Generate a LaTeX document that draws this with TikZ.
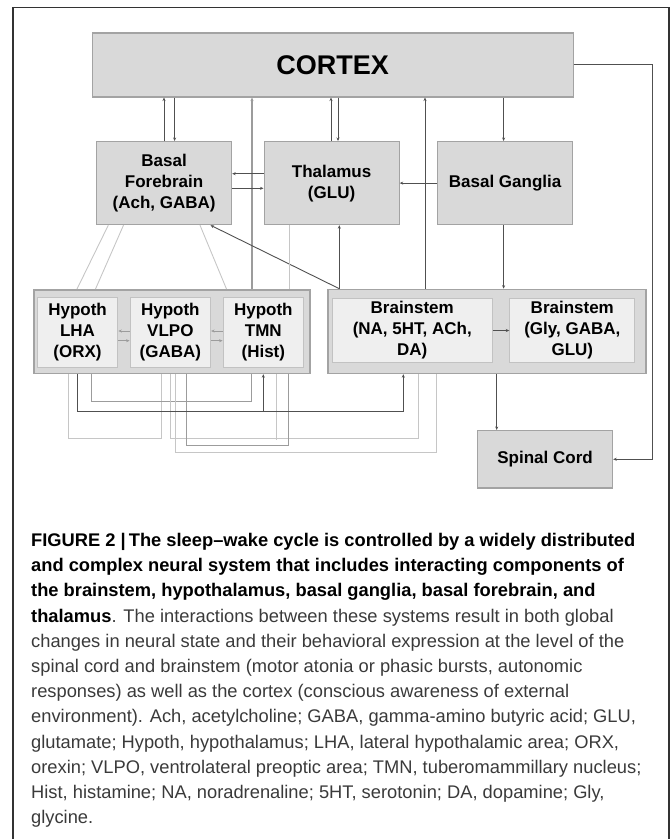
\documentclass[tikz,border=0pt]{standalone}
\usepackage{fontspec}
\setmainfont{Liberation Sans}
\usetikzlibrary{arrows.meta}

\definecolor{cfill}{HTML}{D9D9D9}
\definecolor{cline}{HTML}{A3A3A3}
\definecolor{csubfill}{HTML}{EFEFEF}
\definecolor{csubline}{HTML}{C2C2C2}
\definecolor{cdark}{HTML}{505050}
\definecolor{cmid}{HTML}{9C9C9C}
\definecolor{clight}{HTML}{C6C6C6}
\definecolor{ctext}{HTML}{3A3A3A}

\tikzset{
  boxed/.style={draw=cline, fill=cfill, line width=1.2pt, anchor=north west,
    align=center, inner sep=0pt, text=black,
    font=\fontsize{17}{21}\selectfont\bfseries},
  grp/.style={boxed, line width=1.5pt},
  sub/.style={boxed, draw=csubline, fill=csubfill, line width=1pt},
  wire/.style={line width=0.9pt, draw=cdark},
  midwire/.style={line width=0.9pt, draw=cmid},
  faintwire/.style={line width=0.9pt, draw=clight},
  arr/.style={-{Stealth[length=3.5pt,width=3pt]}},
  caption/.style={anchor=north west, align=left, inner sep=0pt, text=ctext,
    font=\fontsize{18.3}{25.2}\selectfont},
}

\begin{document}
\begin{tikzpicture}[x=1pt,y=-1pt]
  \useasboundingbox (0,0) rectangle (671,839);
  \draw[line width=1.3pt, draw=black!80] (13,839) |- (669,7.3) -- (669,839);

  % upper row
  \node[boxed, minimum width=481pt, minimum height=64pt] (cortex) at (91.5,32.3) {\fontsize{27}{32}\selectfont CORTEX};
  \node[boxed, minimum width=135pt, minimum height=83pt] (bf) at (96,141) {Basal\\Forebrain\\(Ach, GABA)};
  \node[boxed, minimum width=135pt, minimum height=83pt] (thal) at (263.5,141) {Thalamus\\(GLU)};
  \node[boxed, minimum width=135pt, minimum height=83pt] (bg) at (437,141) {Basal Ganglia};

  % hypothalamus and brainstem groups
  \node[grp, minimum width=276pt, minimum height=83.7pt] (hyp) at (33.4,289) {};
  \node[grp, minimum width=318pt, minimum height=84pt] (stem) at (327,288.7) {};
  \node[sub, minimum width=80.5pt, minimum height=70pt] (lha) at (36.8,296.7) {Hypoth\\LHA\\(ORX)};
  \node[sub, minimum width=80.5pt, minimum height=70pt] (vlpo) at (129.6,296.7) {Hypoth\\VLPO\\(GABA)};
  \node[sub, minimum width=80.5pt, minimum height=70pt] (tmn) at (222.6,296.7) {Hypoth\\TMN\\(Hist)};
  \node[sub, minimum width=159.5pt, minimum height=64.6pt] (bs1) at (332,297.7) {Brainstem\\(NA, 5HT, ACh,\\DA)};
  \node[sub, minimum width=125pt, minimum height=64.6pt] (bs2) at (509.3,297.7) {Brainstem\\(Gly, GABA,\\GLU)};
  \node[boxed, minimum width=135pt, minimum height=57.3pt] (spinal) at (477,430) {Spinal Cord};

  % to and from the cortex
  \draw[wire, arr] (bf.north -| 164,0) -- (cortex.south -| 164,0);
  \draw[wire, arr] (cortex.south -| 174.6,0) -- (bf.north -| 174.6,0);
  \draw[midwire, line width=1.5pt, arr] (hyp.north -| 252,0) -- (cortex.south -| 252,0);
  \draw[wire, arr] (thal.north -| 331,0) -- (cortex.south -| 331,0);
  \draw[wire, arr] (cortex.south -| 338,0) -- (thal.north -| 338,0);
  \draw[wire, arr] (stem.north -| 425,0) -- (cortex.south -| 425,0);
  \draw[wire, arr] (cortex.south -| 503.6,0) -- (bg.north -| 503.6,0);
  \draw[wire, arr] (cortex.east) -| (spinal.east -| 652.5,0) -- (spinal.east);

  % between the upper boxes
  \draw[wire, arr] (thal.west |- 0,173.7) -- (bf.east |- 0,173.7);
  \draw[wire, arr] (bf.east |- 0,188.3) -- (thal.west |- 0,188.3);
  \draw[wire, arr] (bg.west) -- (thal.east);

  % down to the groups
  \draw[wire, arr] (bg.south -| 503.6,0) -- (stem.north -| 503.6,0);
  \draw[wire, arr] (stem.north -| 339.3,0) -- (thal.south -| 339.3,0);
  \draw[wire, arr] (stem.north -| 339.3,0) -- (bf.south -| 210.5,0);
  \draw[faintwire] (thal.south -| 289,0) -- (hyp.north -| 289,0);
  \draw[faintwire] (bf.south -| 108.3,0) -- (hyp.north -| 77,0);
  \draw[faintwire] (bf.south -| 123.5,0) -- (hyp.north -| 95.5,0);
  \draw[faintwire] (bf.south -| 200,0) -- (hyp.north -| 226.5,0);

  % inside the groups
  \draw[midwire, arr] (vlpo.west |- 0,331) -- (lha.east |- 0,331);
  \draw[midwire, arr] (lha.east |- 0,340.7) -- (vlpo.west |- 0,340.7);
  \draw[midwire, arr] (tmn.west |- 0,331) -- (vlpo.east |- 0,331);
  \draw[midwire, arr] (vlpo.east |- 0,340.7) -- (tmn.west |- 0,340.7);
  \draw[wire, arr] (bs1.east) -- (bs2.west);

  % loops below the groups
  \coordinate (orxbus) at (263.3,411.7);
  \draw[faintwire] (hyp.south -| 68.3,0) |- (0,438.5 -| 161.5,0) -- (hyp.south -| 161.5,0);
  \draw[midwire] (hyp.south -| 91,0) |- (0,401.5 -| 251.8,0) -- (hyp.south -| 251.8,0);
  \draw[faintwire] (hyp.south -| 170,0) |- (0,438 -| 418.3,0) -- (stem.south -| 418.3,0);
  \draw[faintwire] (hyp.south -| 276.7,0) -- ++(0,65.3);
  \draw[faintwire] (hyp.south -| 175,0) |- (0,452 -| 436.8,0) -- (stem.south -| 436.8,0);
  \draw[midwire] (hyp.south -| 186.5,0) |- (0,445 -| 288.3,0) -- (hyp.south -| 288.3,0);
  \draw[wire, arr] (hyp.south -| 77.5,0) |- (orxbus -| 403.3,0) -- (stem.south -| 403.3,0);
  \draw[wire, arr] (orxbus) -- (hyp.south -| orxbus);
  \draw[wire, arr] (stem.south -| 496.7,0) -- (spinal.north -| 496.7,0);

  % legend text
  \node[caption] (cap) at (31,533) {%
    \textbf{\color{black}FIGURE 2 \textbar\,The sleep–wake cycle is controlled by a widely distributed}\\
    \textbf{\color{black}and complex neural system that includes interacting components of}\\
    \textbf{\color{black}the brainstem, hypothalamus, basal ganglia, basal forebrain, and}\\
    \textbf{\color{black}thalamus}. The interactions between these systems result in both global\\
    changes in neural state and their behavioral expression at the level of the\\
    spinal cord and brainstem (motor atonia or phasic bursts, autonomic\\
    responses) as well as the cortex (conscious awareness of external\\
    environment). Ach, acetylcholine; GABA, gamma-amino butyric acid; GLU,\\
    glutamate; Hypoth, hypothalamus; LHA, lateral hypothalamic area; ORX,\\
    orexin; VLPO, ventrolateral preoptic area; TMN, tuberomammillary nucleus;\\
    Hist, histamine; NA, noradrenaline; 5HT, serotonin; DA, dopamine; Gly,\\
    glycine.};
\end{tikzpicture}
\end{document}
